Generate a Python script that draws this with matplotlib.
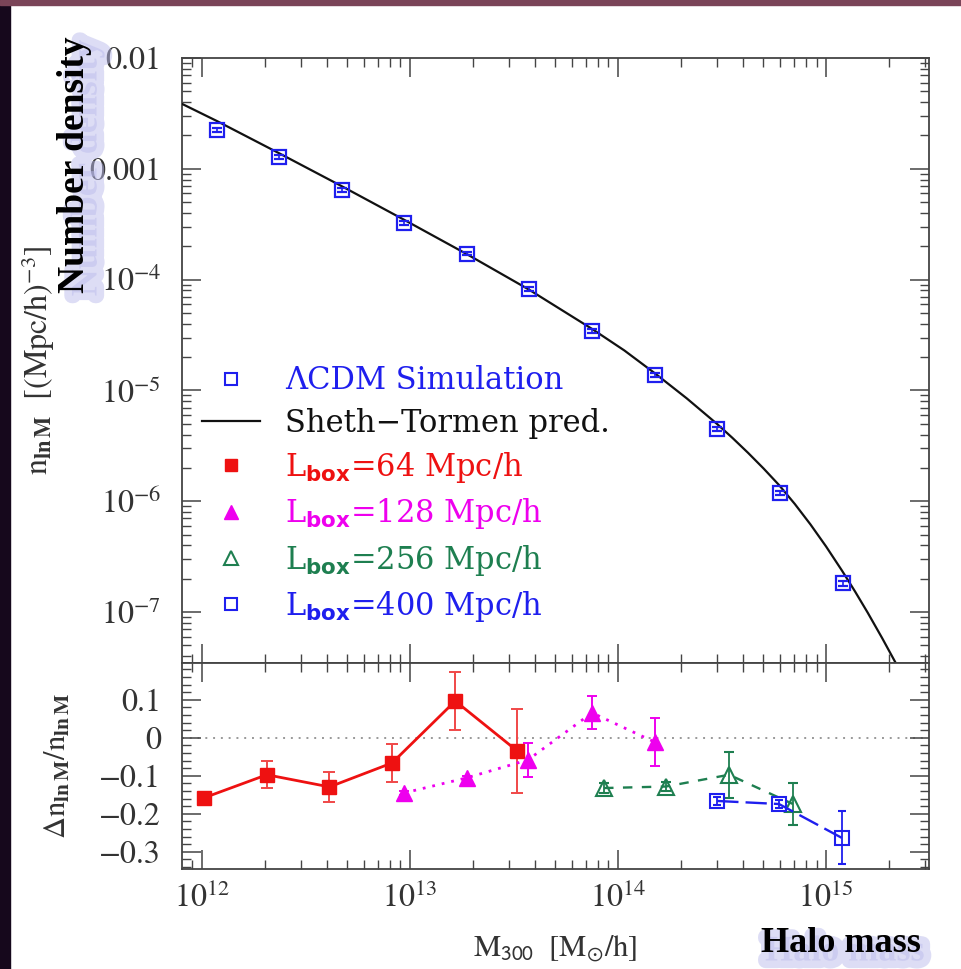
import matplotlib
matplotlib.use('Agg')
import matplotlib.pyplot as plt
import matplotlib.patheffects as pe
from matplotlib.lines import Line2D
from matplotlib.patches import Rectangle
from matplotlib.ticker import LogLocator, NullFormatter, MultipleLocator
from matplotlib.font_manager import FontProperties

plt.rcParams['font.family'] = 'serif'
plt.rcParams['font.serif'] = ['STIXGeneral', 'Liberation Serif', 'DejaVu Serif']
plt.rcParams['mathtext.fontset'] = 'stix'

# --- data ---
# top panel: simulation mass function (LCDM) and Sheth-Tormen curve
sim_mass = [1.18e12, 2.35e12, 4.7e12, 9.4e12, 1.88e13, 3.75e13, 7.5e13,
            1.5e14, 3.0e14, 6.0e14, 1.2e15]
sim_n = [2.24e-3, 1.28e-3, 6.5e-4, 3.27e-4, 1.72e-4, 8.3e-5, 3.47e-5,
         1.39e-5, 4.45e-6, 1.18e-6, 1.82e-7]
sim_relerr = [0.04, 0.04, 0.04, 0.04, 0.04, 0.04, 0.04, 0.04, 0.04, 0.04, 0.05]

st_mass = [8.02e11, 1.18e12, 2.34e12, 4.71e12, 9.35e12, 1.88e13, 3.73e13, 7.5e13,
           1.072e14, 1.51e14, 2.138e14, 2.99e14, 3.548e14, 4.217e14, 5.012e14,
           5.943e14, 7.079e14, 8.414e14, 1.0e15, 1.194e15, 1.38e15, 1.585e15,
           1.862e15, 2.138e15, 2.239e15]
st_n = [3.855e-3, 2.698e-3, 1.387e-3, 6.95e-4, 3.475e-4, 1.694e-4, 8.13e-5, 3.59e-5,
        2.296e-5, 1.419e-5, 8.49e-6, 4.99e-6, 3.73e-6, 2.735e-6, 1.972e-6,
        1.40e-6, 9.44e-7, 6.18e-7, 3.91e-7, 2.36e-7, 1.528e-7, 9.89e-8,
        5.81e-8, 3.61e-8, 3.08e-8]

# bottom panel: relative residuals per box size
red_mass = [1.02e12, 2.05e12, 4.1e12, 8.2e12, 1.65e13, 3.27e13]
red_dn = [-0.158, -0.097, -0.129, -0.066, 0.097, -0.034]
red_err = [0.0, 0.035, 0.04, 0.05, 0.077, 0.11]

mag_mass = [9.35e12, 1.88e13, 3.69e13, 7.5e13, 1.5e14]
mag_dn = [-0.145, -0.105, -0.058, 0.066, -0.011]
mag_err = [0.006, 0.006, 0.045, 0.043, 0.064]

grn_mass = [8.57e13, 1.70e14, 3.42e14, 6.93e14]
grn_dn = [-0.132, -0.128, -0.097, -0.174]
grn_err = [0.012, 0.012, 0.06, 0.055]

blu_mass = [3.0e14, 5.94e14, 1.19e15]
blu_dn = [-0.166, -0.174, -0.263]
blu_err = [0.01, 0.01, 0.07]

xtick_vals = [1e12, 1e13, 1e14, 1e15]
xtick_labels = [r'$10^{12}$', r'$10^{13}$', r'$10^{14}$', r'$10^{15}$']
ytop_vals = [1e-2, 1e-3, 1e-4, 1e-5, 1e-6, 1e-7]
ytop_labels = ['0.01', '0.001', r'$10^{-4}$', r'$10^{-5}$', r'$10^{-6}$', r'$10^{-7}$']
ybot_vals = [0.1, 0.0, -0.1, -0.2, -0.3]
ybot_labels = ['0.1', '0', '\u22120.1', '\u22120.2', '\u22120.3']

RED = '#ee1111'
MAG = '#ee00ee'
GRN = '#1e7f50'
BLU = '#1f1fee'
SHADOW = '#bcbcec'

W, H = 962, 969
fig = plt.figure(figsize=(W / 100, H / 100), dpi=100)
fig.patch.set_facecolor('white')
# starfield edges of the slide
fig.patches.append(Rectangle((0, 0), 10 / W, 1, transform=fig.transFigure,
                             color='#16081c', zorder=0))
fig.patches.append(Rectangle((0, 1 - 5 / H), 1, 5 / H, transform=fig.transFigure,
                             color='#7a4458', zorder=0))

x0, x1 = 182 / W, 929 / W
ax = fig.add_axes([x0, 1 - 663 / H, x1 - x0, (663 - 58) / H])
ax2 = fig.add_axes([x0, 1 - 869 / H, x1 - x0, (869 - 663) / H], sharex=ax)

# top panel
ax.plot(st_mass, st_n, color='#111111', lw=1.6, zorder=3)
sim_err = [n * e for n, e in zip(sim_n, sim_relerr)]
ax.errorbar(sim_mass, sim_n, yerr=sim_err, fmt='s', ms=10, mfc='none', mec=BLU,
            mew=1.6, ecolor=BLU, elinewidth=1.2, capsize=3.5, capthick=1.3, zorder=4)
ax.set_xscale('log')
ax.set_yscale('log')
ax.set_xlim(10 ** 11.904, 10 ** 15.495)
ax.set_ylim(10 ** -7.46, 1e-2)
ax.set_yticks(ytop_vals, ytop_labels)
ax.yaxis.set_minor_locator(LogLocator(base=10, subs=range(2, 10), numticks=20))
ax.yaxis.set_minor_formatter(NullFormatter())
ax.set_ylabel(r'$\mathrm{n}_{\mathbf{ln\,M}}\ \ [(\mathrm{Mpc/h})^{-3}]$', fontsize=23,
              color='#333333')
ax.yaxis.set_label_coords(-0.168, 0.5)

handles = [
    Line2D([], [], ls='none', marker='s', ms=9, mfc='none', mec=BLU, mew=1.5),
    Line2D([], [], color='#111111', lw=1.6),
    Line2D([], [], ls='none', marker='s', ms=9, color=RED),
    Line2D([], [], ls='none', marker='^', ms=10, color=MAG),
    Line2D([], [], ls='none', marker='^', ms=10, mfc='none', mec=GRN, mew=1.5),
    Line2D([], [], ls='none', marker='s', ms=9, mfc='none', mec=BLU, mew=1.5),
]
labels = ['\u039bCDM Simulation', 'Sheth\u2212Tormen pred.',
          r'L$_{\mathbf{box}}$=64 Mpc/h', r'L$_{\mathbf{box}}$=128 Mpc/h',
          r'L$_{\mathbf{box}}$=256 Mpc/h', r'L$_{\mathbf{box}}$=400 Mpc/h']
leg_colors = [BLU, '#111111', RED, MAG, GRN, BLU]
leg = ax.legend(handles, labels, loc='upper left', bbox_to_anchor=(0.027, 0.492),
                frameon=False, borderpad=0, borderaxespad=0, handlelength=1.9,
                handletextpad=0.8, labelspacing=0.37,
                prop=FontProperties(family='DejaVu Serif', size=22,
                                    math_fontfamily='dejavusans'))
for t, c in zip(leg.get_texts(), leg_colors):
    t.set_color(c)

# bottom panel
ax2.axhline(0, color='#999999', lw=1.4, ls=(0, (1, 3)), zorder=1)
ax2.errorbar(red_mass, red_dn, yerr=red_err, fmt='s-', ms=10, color=RED, lw=2,
             ecolor='#f04848', elinewidth=1.4, capsize=4, capthick=1.4, zorder=3)
ax2.errorbar(mag_mass, mag_dn, yerr=mag_err, fmt='^', ls=(0, (1, 2.5)), ms=11,
             color=MAG, lw=2, elinewidth=1.4, capsize=3.5, capthick=1.4, zorder=3)
ax2.errorbar(grn_mass, grn_dn, yerr=grn_err, fmt='^', ls=(0, (4, 4)), ms=12,
             mfc='none', mec=GRN, mew=1.5, color=GRN, lw=1.7, elinewidth=1.3,
             capsize=3.5, capthick=1.3, zorder=3)
ax2.errorbar(blu_mass, blu_dn, yerr=blu_err, fmt='s', ls=(0, (9, 3)), ms=10,
             mfc='none', mec=BLU, mew=1.5, color=BLU, lw=1.7, elinewidth=1.3,
             capsize=3, capthick=1.3, zorder=3)
ax2.set_ylim(-0.345, 0.197)
ax2.set_yticks(ybot_vals, ybot_labels)
ax2.yaxis.set_minor_locator(MultipleLocator(0.02))
ax2.set_ylabel(r'$\Delta\mathrm{n}_{\mathbf{ln\,M}}/\mathrm{n}_{\mathbf{ln\,M}}$',
               fontsize=22, color='#333333')
ax2.yaxis.set_label_coords(-0.146, 0.5)
ax2.set_xticks(xtick_vals, xtick_labels)
ax2.xaxis.set_minor_locator(LogLocator(base=10, subs=range(2, 10), numticks=20))
ax2.xaxis.set_minor_formatter(NullFormatter())
ax2.set_xlabel(r'$\mathrm{M}_{\mathsf{300}}\ \ [\mathrm{M}_{\odot}/\mathrm{h}]$',
               fontsize=22, color='#333333')
ax2.xaxis.set_label_coords(0.5, -0.31)

for a in (ax, ax2):
    for s in a.spines.values():
        s.set_linewidth(1.3)
        s.set_color('#444444')
    a.tick_params(which='both', direction='in', top=True, right=True,
                  color='#444444', labelsize=23, labelcolor='#333333')
    a.tick_params(which='major', length=14, width=1.1, pad=15)
    a.tick_params(which='minor', length=6.5, width=1.0)
ax.tick_params(labelbottom=False)
ax2.tick_params(axis='x', pad=10)

# slide annotations with soft lavender shadow
shadow = [pe.Stroke(linewidth=11, foreground=SHADOW, alpha=0.5)]
fig.text(87 / W, 1 - 168 / H, 'Number density', rotation=90, ha='center', va='center',
         fontsize=27, fontweight='bold', family='Liberation Serif', color=SHADOW,
         path_effects=shadow)
fig.text(75 / W, 1 - 165 / H, 'Number density', rotation=90, ha='center', va='center',
         fontsize=27, fontweight='bold', family='Liberation Serif', color='black')
fig.text(845 / W, 1 - 952 / H, 'Halo mass', ha='center', va='center',
         fontsize=26, fontweight='bold', family='Liberation Serif', color=SHADOW,
         path_effects=shadow)
fig.text(841 / W, 1 - 944 / H, 'Halo mass', ha='center', va='center',
         fontsize=26, fontweight='bold', family='Liberation Serif', color='black')

fig.savefig('out.png', dpi=100)
